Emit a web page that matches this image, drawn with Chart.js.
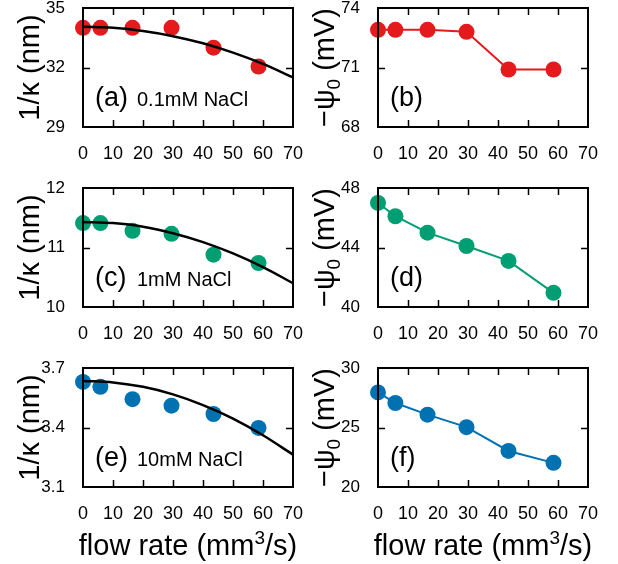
<!DOCTYPE html>
<html>
<head>
<meta charset="utf-8">
<script src="https://cdn.jsdelivr.net/npm/chart.js@4.4.1/dist/chart.umd.min.js"></script>
<style>
  body { margin: 0; background: #fff; }
  canvas { position: absolute; }
</style>
</head>
<body>
<canvas id="pa" width="320" height="170" style="left:0;top:0"></canvas>
<canvas id="pb" width="323" height="170" style="left:295px;top:0"></canvas>
<canvas id="pc" width="320" height="170" style="left:0;top:180px"></canvas>
<canvas id="pd" width="323" height="170" style="left:295px;top:180px"></canvas>
<canvas id="pe" width="320" height="204" style="left:0;top:360px"></canvas>
<canvas id="pf" width="323" height="204" style="left:295px;top:360px"></canvas>
<script>
// --- data ---
const flowRate = [0, 5.8, 16.5, 29.5, 43.5, 58.5];   // mm^3/s
const fitRate  = [0, 10, 20, 30, 40, 50, 60, 70];
const xTicks   = [0, 10, 20, 30, 40, 50, 60, 70];

// 0.1 mM NaCl
const kappa01    = [34.0, 34.0, 34.0, 34.0, 33.0, 32.05];
const kappa01Fit = [34.05, 34.0, 33.84, 33.58, 33.22, 32.75, 32.18, 31.5];
const psi01      = [72.9, 72.9, 72.9, 72.8, 70.9, 70.9];

// 1 mM NaCl
const kappa1    = [11.41, 11.41, 11.28, 11.23, 10.88, 10.74];
const kappa1Fit = [11.43, 11.41, 11.35, 11.24, 11.09, 10.90, 10.67, 10.40];
const psi1      = [47.0, 46.1, 45.0, 44.1, 43.1, 40.95];

// 10 mM NaCl
const kappa10    = [3.63, 3.605, 3.543, 3.51, 3.468, 3.398];
const kappa10Fit = [3.635, 3.627, 3.605, 3.567, 3.513, 3.445, 3.361, 3.263];
const psi10      = [27.95, 27.06, 26.08, 25.03, 23.03, 22.03];

const yTicksA = [29, 32, 35];
const yTicksB = [68, 71, 74];
const yTicksC = [10, 11, 12];
const yTicksD = [40, 44, 48];
const yTicksE = [3.1, 3.4, 3.7];
const yTicksF = [20, 25, 30];

const RED = '#e41a1c', GREEN = '#009e73', BLUE = '#0072b2';
const FONT = "'Liberation Sans', Arial, sans-serif";

const kappaTitle = [{ t: '1/κ (nm)' }];
const psiTitle = [{ t: '−ψ' }, { t: '0', sub: true }, { t: ' (mV)' }];
const flowTitle = [{ t: 'flow rate (mm' }, { t: '3', sup: true }, { t: '/s)' }];

// draws text made of normal / sub / superscript parts, centred on (0,0)
function drawRich(ctx, parts, size) {
  const small = Math.round(size * 0.65);
  let w = 0;
  parts.forEach(p => {
    ctx.font = `${p.sub || p.sup ? small : size}px ${FONT}`;
    p.w = ctx.measureText(p.t).width;
    w += p.w;
  });
  let x = -w / 2;
  ctx.textAlign = 'left';
  ctx.textBaseline = 'alphabetic';
  parts.forEach(p => {
    ctx.font = `${p.sub || p.sup ? small : size}px ${FONT}`;
    let dy = size * 0.36;
    if (p.sub) dy += size * 0.2;
    if (p.sup) dy -= size * 0.38;
    ctx.fillText(p.t, x, dy);
    x += p.w;
  });
}

const panelPlugin = {
  id: 'panel',
  afterDraw(chart, args, opts) {
    const { ctx, chartArea: a, scales } = chart;
    ctx.save();
    ctx.strokeStyle = '#000';
    ctx.fillStyle = '#000';

    // inward tick marks on all four sides
    ctx.lineWidth = 1.5;
    ctx.beginPath();
    scales.x.ticks.forEach(t => {
      const px = Math.round(scales.x.getPixelForValue(t.value)) + 0.5;
      if (px <= a.left + 1 || px >= a.right - 1) return;
      ctx.moveTo(px, a.bottom); ctx.lineTo(px, a.bottom - 7);
      ctx.moveTo(px, a.top); ctx.lineTo(px, a.top + 7);
    });
    scales.y.ticks.forEach(t => {
      const py = Math.round(scales.y.getPixelForValue(t.value)) + 0.5;
      if (py <= a.top + 1 || py >= a.bottom - 1) return;
      ctx.moveTo(a.left, py); ctx.lineTo(a.left + 7, py);
      ctx.moveTo(a.right, py); ctx.lineTo(a.right - 7, py);
    });
    ctx.stroke();

    // frame
    ctx.lineWidth = 2;
    ctx.strokeRect(a.left, a.top, a.right - a.left, a.bottom - a.top);

    // panel tag and salt label
    ctx.textAlign = 'left';
    ctx.textBaseline = 'alphabetic';
    ctx.font = `27px ${FONT}`;
    ctx.fillText(opts.tag, a.left + 12, a.top + 98);
    if (opts.salt) {
      ctx.font = `20px ${FONT}`;
      ctx.fillText(opts.salt, a.left + 54, a.top + 98);
    }

    // y axis title
    ctx.save();
    ctx.translate(a.left - 54, (a.top + a.bottom) / 2);
    ctx.rotate(-Math.PI / 2);
    drawRich(ctx, opts.yTitle, 29);
    ctx.restore();

    // x axis title (bottom row only)
    if (opts.xTitle) {
      ctx.save();
      ctx.translate((a.left + a.right) / 2, a.bottom + 58);
      drawRich(ctx, opts.xTitle, 29);
      ctx.restore();
    }
    ctx.restore();
  }
};

function pts(xs, ys) {
  return xs.map((x, i) => ({ x: x, y: ys[i] }));
}

function makePanel(id, p) {
  const datasets = [];
  if (p.fit) {
    datasets.push({
      data: pts(fitRate, p.fit), showLine: true, pointRadius: 0,
      borderColor: '#000', borderWidth: 2.5, cubicInterpolationMode: 'monotone',
      clip: false, order: 0
    });
  }
  datasets.push({
    data: pts(flowRate, p.values), showLine: p.connect, pointRadius: 8,
    pointBackgroundColor: p.color, pointBorderWidth: 0, borderColor: p.color,
    borderWidth: 2, clip: false, order: 1
  });

  new Chart(document.getElementById(id), {
    type: 'scatter',
    data: { datasets },
    options: {
      responsive: false,
      animation: false,
      events: [],
      layout: { padding: { left: 0, right: p.right ? 30 : 27, top: p.top, bottom: 0 } },
      plugins: {
        legend: { display: false },
        tooltip: { enabled: false },
        panel: { tag: p.tag, salt: p.salt, yTitle: p.yTitle, xTitle: p.xTitle }
      },
      scales: {
        x: {
          type: 'linear', min: 0, max: 70,
          grid: { display: false }, border: { display: false },
          afterBuildTicks: s => { s.ticks = xTicks.map(v => ({ value: v })); },
          ticks: { font: { family: FONT, size: 18 }, color: '#000', padding: 8, maxRotation: 0, autoSkip: false },
          afterFit: s => { s.height = p.xTitle ? 77 : 43; s.paddingLeft = 0; s.paddingRight = 0; }
        },
        y: {
          type: 'linear', min: p.yTicks[0], max: p.yTicks[p.yTicks.length - 1],
          grid: { display: false }, border: { display: false },
          afterBuildTicks: s => { s.ticks = p.yTicks.map(v => ({ value: v })); },
          ticks: {
            font: { family: FONT, size: 17 }, color: '#000', padding: 10,
            callback: v => p.yTicks.includes(v) && p.decimals ? v.toFixed(p.decimals) : v
          },
          afterFit: s => { s.width = 83; s.paddingTop = 0; s.paddingBottom = 0; }
        }
      }
    },
    plugins: [panelPlugin]
  });
}

makePanel('pa', { tag: '(a)', salt: '0.1mM NaCl', values: kappa01, fit: kappa01Fit, color: RED, yTicks: yTicksA, yTitle: kappaTitle, top: 6 });
makePanel('pb', { tag: '(b)', values: psi01, connect: true, color: RED, yTicks: yTicksB, yTitle: psiTitle, top: 6, right: true });
makePanel('pc', { tag: '(c)', salt: '1mM NaCl', values: kappa1, fit: kappa1Fit, color: GREEN, yTicks: yTicksC, yTitle: kappaTitle, top: 7 });
makePanel('pd', { tag: '(d)', values: psi1, connect: true, color: GREEN, yTicks: yTicksD, yTitle: psiTitle, top: 7, right: true });
makePanel('pe', { tag: '(e)', salt: '10mM NaCl', values: kappa10, fit: kappa10Fit, color: BLUE, yTicks: yTicksE, yTitle: kappaTitle, xTitle: flowTitle, top: 7, decimals: 1 });
makePanel('pf', { tag: '(f)', values: psi10, connect: true, color: BLUE, yTicks: yTicksF, yTitle: psiTitle, xTitle: flowTitle, top: 7, right: true });
</script>
</body>
</html>
